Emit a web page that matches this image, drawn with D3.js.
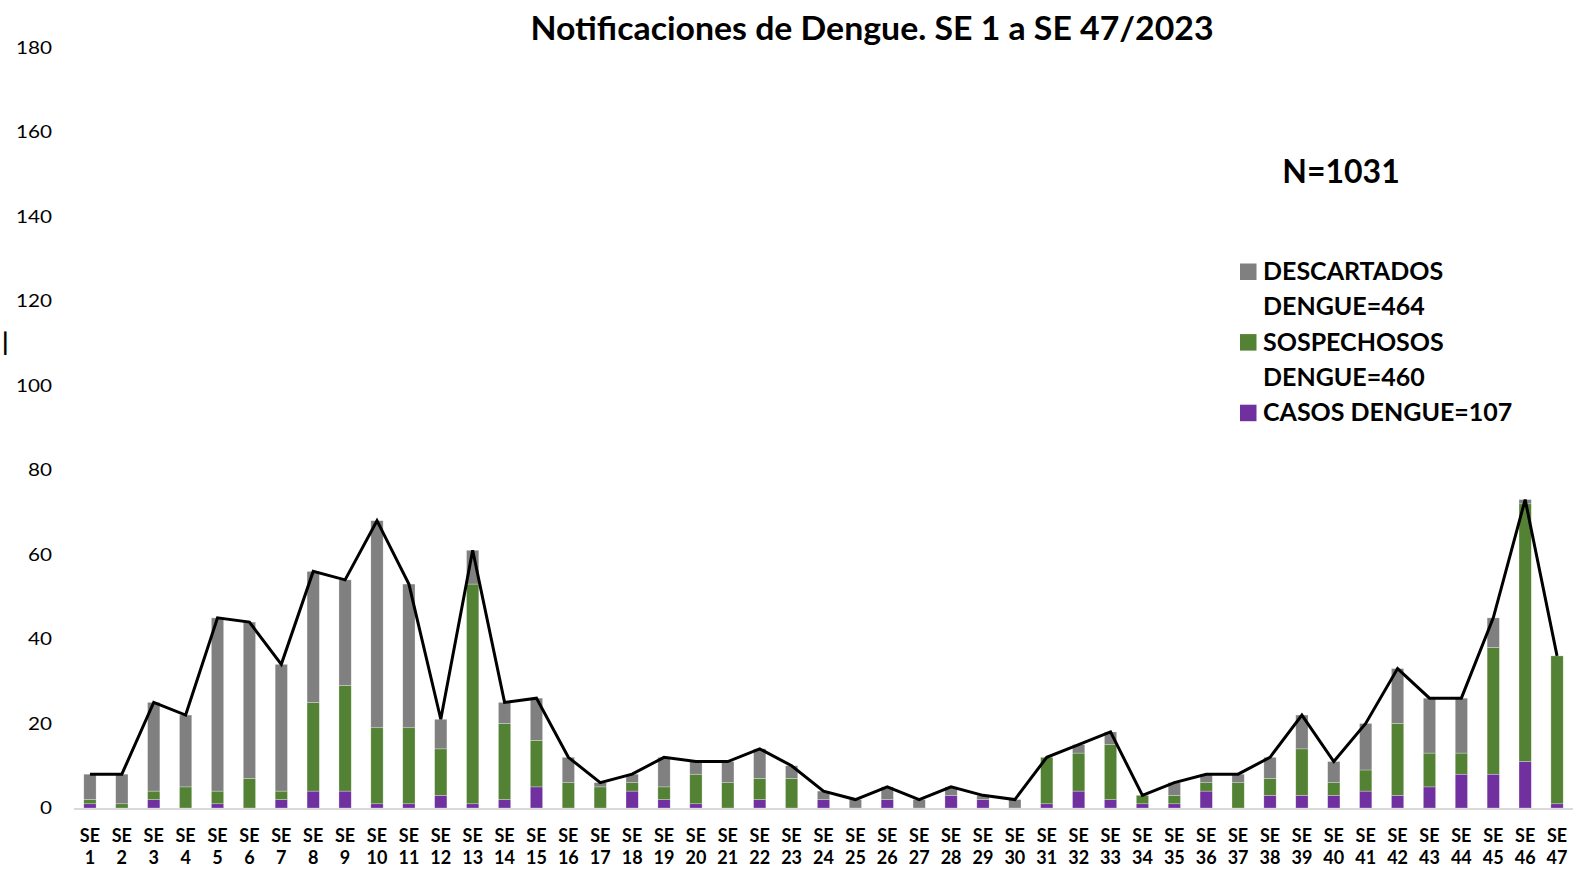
<!DOCTYPE html>
<html>
<head>
<meta charset="utf-8">
<script src="https://cdn.jsdelivr.net/npm/d3@7"></script>
<style>
	body { margin: 0; background: #fff; }
	svg { display: block; font-family: Lato, "Open Sans", sans-serif; }
</style>
</head>
<body>
<div id="D3"></div>
<script>
// semanas epidemiologicas
var semanas = [];
for (var s = 1; s <= 47; s++) semanas.push(s);

// casos confirmados (morado)
var casos = [1,0,2,0,1,0,2,4,4,1,1,3,1,2,5,0,0,4,2,1,0,2,0,2,0,2,0,3,2,0,1,4,2,1,1,4,0,3,3,3,4,3,5,8,8,11,1];
// sospechosos (verde)
var sospechosos = [1,1,2,5,3,7,2,21,25,18,18,11,52,18,11,6,5,2,3,7,6,5,7,0,0,0,0,0,0,0,11,9,13,2,2,2,6,4,11,3,5,17,8,5,30,61,35];
// descartados (gris)
var descartados = [6,7,21,17,41,37,30,31,25,49,34,7,8,5,10,6,1,2,7,3,5,7,3,2,2,3,2,2,1,2,0,2,3,0,3,2,2,5,8,5,11,13,13,13,7,1,0];

var yTicks = [0,20,40,60,80,100,120,140,160,180];
var leyenda = [
	{key: "descartados", lines: ["DESCARTADOS", "DENGUE=464"], color: "#808080"},
	{key: "sospechosos", lines: ["SOSPECHOSOS", "DENGUE=460"], color: "#548235"},
	{key: "casos", lines: ["CASOS DENGUE=107"], color: "#7030A0"}
];
var colores = {casos: "#7030A0", sospechosos: "#548235", descartados: "#808080"};

var W = 1584, H = 869;
var SVG = d3.select("#D3").append("svg").attr("width", W).attr("height", H);

// tabla para el stack
var rows = semanas.map(function (d, i) {
	return {se: d, casos: casos[i], sospechosos: sospechosos[i], descartados: descartados[i]};
});
var series = d3.stack().keys(["casos", "sospechosos", "descartados"])(rows);

var x = d3.scaleBand().domain(semanas).range([74, 1573]).paddingInner(0.615).paddingOuter(0.3075);
var y = d3.scaleLinear().domain([0, 180]).range([808, 47.5]);

// titulo
SVG.append("text")
	.attr("x", 872).attr("y", 40)
	.attr("text-anchor", "middle")
	.attr("font-size", 32).attr("font-weight", "bold")
	.attr("textLength", 683).attr("lengthAdjust", "spacingAndGlyphs")
	.text("Notificaciones de Dengue. SE 1 a SE 47/2023");

// eje y, solo etiquetas
var yAxis = SVG.append("g").attr("transform", "translate(52,0)")
	.call(d3.axisLeft(y).tickValues(yTicks).tickSize(0).tickPadding(0));
yAxis.select(".domain").remove();
yAxis.selectAll("text")
	.attr("font-size", 18)
	.attr("font-family", "Lato, sans-serif")
	.attr("fill", "#000")
	.attr("textLength", function (d) { return String(d).length * 12; })
	.attr("lengthAdjust", "spacingAndGlyphs");

// marca suelta a la izquierda
SVG.append("text").attr("x", 2).attr("y", 351)
	.attr("font-size", 25).attr("font-weight", "bold").text("|");

// barras apiladas
SVG.selectAll("g.serie")
	.data(series)
	.enter()
	.append("g")
	.attr("class", "serie")
	.attr("fill", function (d) { return colores[d.key]; })
	.selectAll("rect")
	.data(function (d) { return d; })
	.enter()
	.append("rect")
	.attr("x", function (d) { return x(d.data.se); })
	.attr("y", function (d) { return y(d[1]); })
	.attr("width", x.bandwidth())
	.attr("height", function (d) { return y(d[0]) - y(d[1]); })
	.attr("stroke", "#ffffff")
	.attr("stroke-opacity", 0.45)
	.attr("stroke-width", 0.6);

// linea de eje x
SVG.append("line")
	.attr("x1", 74).attr("x2", 1573)
	.attr("y1", y(0) + 1).attr("y2", y(0) + 1)
	.attr("stroke", "#d9d9d9").attr("stroke-width", 2);

// linea del total
var line = d3.line()
	.x(function (d) { return x(d.se) + x.bandwidth() / 2; })
	.y(function (d) { return y(d.casos + d.sospechosos + d.descartados); });
SVG.append("path")
	.datum(rows)
	.attr("d", line)
	.attr("fill", "none")
	.attr("stroke", "#000")
	.attr("stroke-width", 3)
	.attr("stroke-linejoin", "miter");

// etiquetas eje x en dos lineas
var xl = SVG.selectAll("text.xlab")
	.data(semanas)
	.enter()
	.append("text")
	.attr("class", "xlab")
	.attr("text-anchor", "middle")
	.attr("font-size", 18)
	.attr("font-weight", "bold");
xl.append("tspan")
	.attr("x", function (d) { return x(d) + x.bandwidth() / 2; })
	.attr("y", 842)
	.text("SE");
xl.append("tspan")
	.attr("x", function (d) { return x(d) + x.bandwidth() / 2; })
	.attr("y", 864)
	.text(function (d) { return d; });

// N total
SVG.append("text")
	.attr("x", 1341).attr("y", 183)
	.attr("text-anchor", "middle")
	.attr("font-size", 32).attr("font-weight", "bold")
	.text("N=1031");

// leyenda
var ly = 280;
leyenda.forEach(function (item) {
	SVG.append("rect")
		.attr("x", 1240).attr("y", ly - 16.5)
		.attr("width", 16.5).attr("height", 16.5)
		.attr("fill", item.color);
	item.lines.forEach(function (t) {
		SVG.append("text")
			.attr("x", 1263).attr("y", ly)
			.attr("font-size", 25).attr("font-weight", "bold")
			.text(t);
		ly += 35.3;
	});
});
</script>
</body>
</html>
